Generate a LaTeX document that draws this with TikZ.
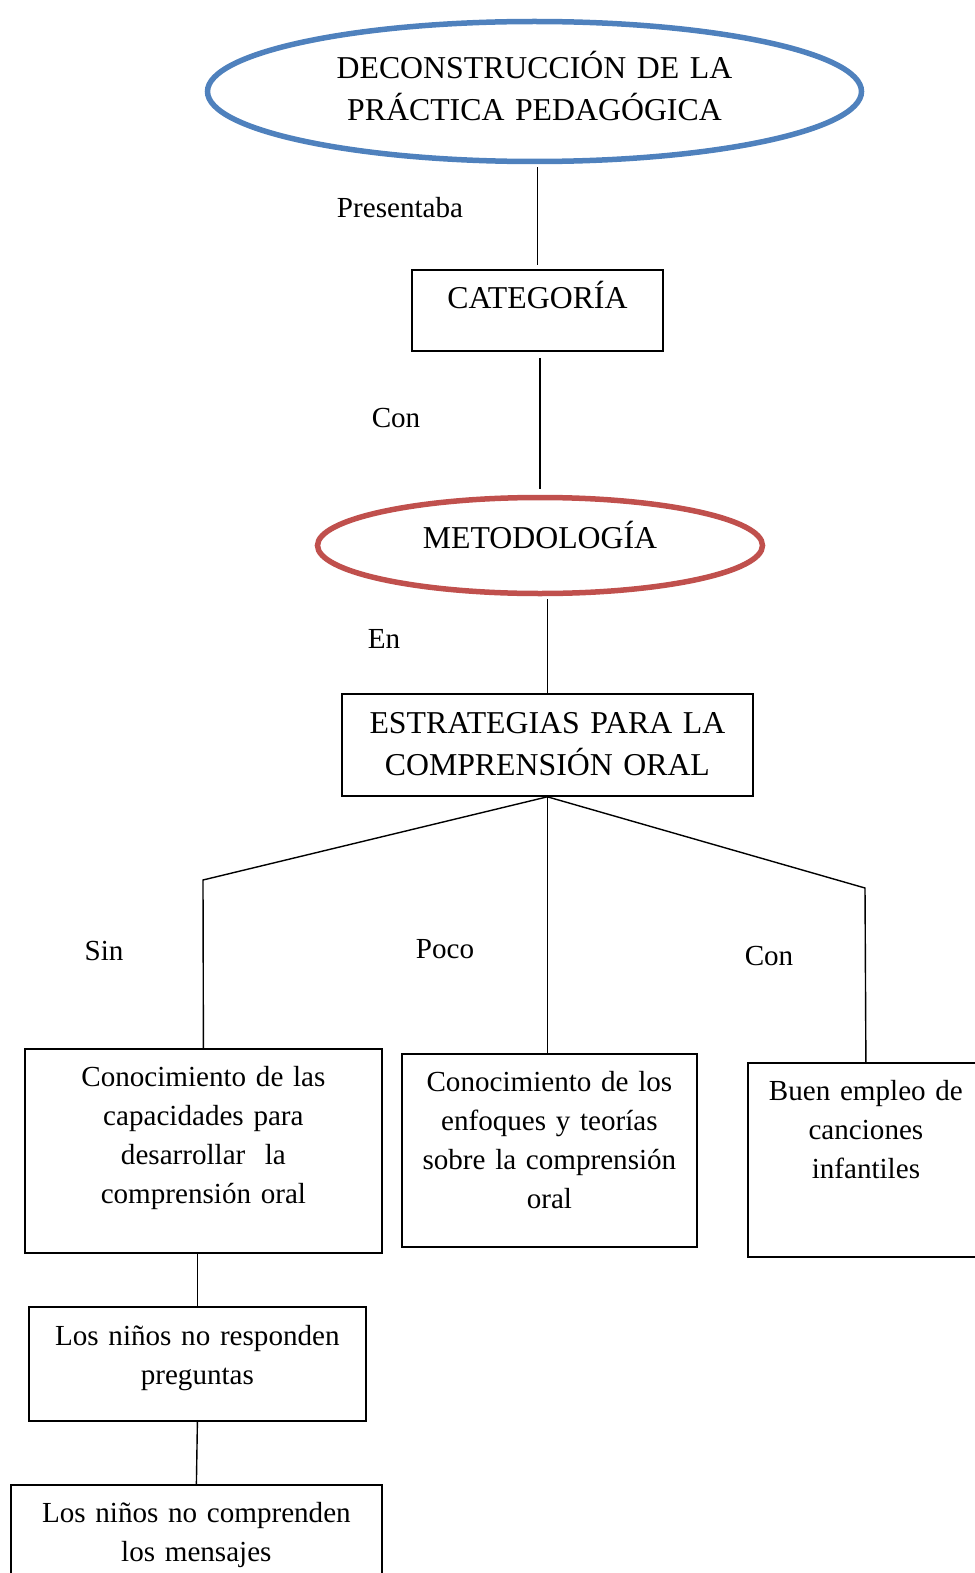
\documentclass[tikz,border=0pt]{standalone}
\usepackage{fontspec}
\setmainfont{Liberation Serif}
\usetikzlibrary{shapes.geometric}
\definecolor{azul}{RGB}{79,129,189}
\definecolor{rojo}{RGB}{192,80,77}
\newcommand{\letragrande}{\fontsize{31.8}{42}\selectfont}
\newcommand{\letranormal}{\fontsize{29.1}{39}\selectfont}
\tikzset{
  caja/.style={draw, line width=1.8pt, inner sep=0pt, anchor=north west, align=center, font=\letranormal},
  elipse/.style={ellipse, line width=5.5pt, inner sep=0pt, align=center, font=\letragrande},
  etiqueta/.style={anchor=base, font=\letranormal},
  linea/.style={line width=1.4pt}
}
\begin{document}
\begin{tikzpicture}[x=1pt,y=-1pt]
  \useasboundingbox (0,0) rectangle (974,1573);

    \node[elipse, draw=azul, minimum width=654pt, minimum height=140pt, text width=400pt, text height=20pt, text depth=46pt] (decon) at (534.5,91.5) {DECONSTRUCCIÓN DE LA\\PRÁCTICA PEDAGÓGICA};
    \node[caja, font=\letragrande, text width=251pt, text height=39pt, text depth=42pt] (cat) at (411,269) {CATEGORÍA};
    \node[elipse, draw=rojo, minimum width=445pt, minimum height=96pt, text width=260pt, text height=20pt, text depth=15pt] (met) at (540,545.5) {METODOLOGÍA};
    \node[caja, font=\letragrande, text width=411pt, text height=40pt, text depth=62pt] (estr) at (341,693) {ESTRATEGIAS PARA LA\\COMPRENSIÓN ORAL};

    \node[caja, text width=357pt, text height=38pt, text depth=166pt] (conoc1) at (24,1048) {Conocimiento de las\\capacidades para\\desarrollar~ la\\comprensión oral};
    \node[caja, text width=295pt, text height=38pt, text depth=155pt] (conoc2) at (401,1053) {Conocimiento de los\\enfoques y teorías\\sobre la comprensión\\oral};
    \node[caja, text width=236pt, text height=38pt, text depth=156pt] (buen) at (747,1062) {Buen empleo de\\canciones\\infantiles};
    \node[caja, text width=337pt, text height=39pt, text depth=75pt] (resp) at (28,1306) {Los niños no responden\\preguntas};
    \node[caja, text width=371pt, text height=38pt, text depth=100pt] (compr) at (10,1484) {Los niños no comprenden\\los mensajes};

    \node[etiqueta] (presentaba) at (400,218) {Presentaba};
    \node[etiqueta] (con1) at (396,427) {Con};
    \node[etiqueta] (en) at (384,648) {En};
    \node[etiqueta] (sinl) at (104,960) {Sin};
    \node[etiqueta] (poco) at (445,958) {Poco};
    \node[etiqueta] (con2) at (769,965) {Con};

    \coordinate (sin) at (203,880);
    \coordinate (con) at (865,888);

    \draw[linea, shorten <=3pt, shorten >=4pt] (decon.south -| cat.north) -- (cat.north);
    \draw[linea, shorten <=6pt, shorten >=6pt] (met.north |- cat.south) -- (met.north);
    \draw[linea, shorten <=3pt] (estr.north |- met.south) -- (estr.north);
    \draw[linea] (estr.south) -- (sin) -- (conoc1.north);
    \draw[linea] (estr.south) -- (estr.south |- conoc2.north);
    \draw[linea] (estr.south) -- (con) -- (buen.north);
    \draw[linea] (resp.north |- conoc1.south) -- (resp.north);
    \draw[linea] (resp.south) -- (compr.north);
\end{tikzpicture}
\end{document}
